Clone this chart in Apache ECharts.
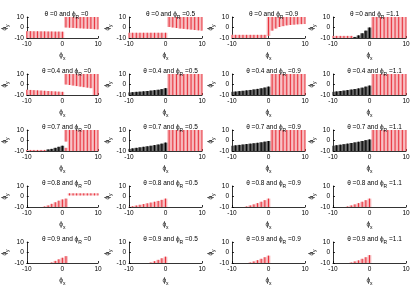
<!DOCTYPE html>
<html>
<head>
<meta charset="utf-8">
<script src="https://cdn.jsdelivr.net/npm/echarts@6/dist/echarts.min.js"></script>
<style>
  html, body { margin: 0; padding: 0; background: #fff; }
  #chart { width: 416px; height: 287px; }
</style>
</head>
<body>
<div id="chart"></div>
<script>
// rows: theta, columns: phi_R
var thetas = ['0', '0.4', '0.7', '0.8', '0.9'];
var phiRs = ['0', '0.5', '0.9', '1.1'];
var ticks = [-10, 0, 10];

// each entry: [phi_x, low phi_y, high phi_y]
// theta = 0
var red00 = [[-10,-10,-3.5],[-9,-10,-3.5],[-8,-10,-3.6],[-7,-10,-3.6],[-6,-10,-3.7],[-5,-10,-3.7],[-4,-10,-3.8],[-3,-10,-3.8],[-2,-10,-3.9],[-1,-10,-3.9],[0,-10,-4],
  [1,0,10],[2,-0.2,10],[3,-0.4,10],[4,-0.6,10],[5,-0.8,10],[6,-1,10],[7,-1.2,10],[8,-1.4,10],[9,-1.6,10],[10,-1.8,10]];
var blk00 = [];
var red01 = [[-10,-10,-5],[-9,-10,-5],[-8,-10,-5],[-7,-10,-5],[-6,-10,-5],[-5,-10,-5],[-4,-10,-5],[-3,-10,-5],[-2,-10,-5],[-1,-10,-5],[0,-10,-5],
  [1,0.5,10],[2,0,10],[3,-0.5,10],[4,-1,10],[5,-1.3,10],[6,-1.7,10],[7,-2,10],[8,-2.4,10],[9,-2.7,10],[10,-3,10]];
var blk01 = [];
var red02 = [[-10,-10,-7],[-9,-10,-7],[-8,-10,-7],[-7,-10,-7],[-6,-10,-7],[-5,-10,-7],[-4,-10,-7],[-3,-10,-7],[-2,-10,-7],[-1,-10,-7],
  [0,-8,10],[1,-3,10],[2,-1,10],[3,0.5,10],[4,1.3,10],[5,2,10],[6,2.4,10],[7,2.7,10],[8,3,10],[9,3.2,10],[10,3.3,10]];
var blk02 = [];
var red03 = [[-10,-10,-8],[-9,-10,-8],[-8,-10,-8],[-7,-10,-8],[-6,-10,-8],[-5,-10,-8],
  [1,-10,10],[2,-10,10],[3,-10,10],[4,-10,10],[5,-10,10],[6,-10,10],[7,-10,10],[8,-10,10],[9,-10,10],[10,-10,10]];
var blk03 = [[-4,-10,-9],[-3,-10,-7.5],[-2,-10,-5.5],[-1,-10,-3],[0,-10,0]];
// theta = 0.4
var red10 = [[-10,-10,-5],[-9,-10,-5.2],[-8,-10,-5.4],[-7,-10,-5.6],[-6,-10,-5.8],[-5,-10,-6],[-4,-10,-6.2],[-3,-10,-6.4],[-2,-10,-6.6],[-1,-10,-6.8],[0,-10,-7],
  [1,0,10],[2,-0.5,10],[3,-1,10],[4,-1.5,10],[5,-2,10],[6,-2.5,10],[7,-3,10],[8,-3.5,10],[9,-10,10],[10,-10,10]];
var blk10 = [];
var red11 = [[1,-10,10],[2,-10,10],[3,-10,10],[4,-10,10],[5,-10,10],[6,-10,10],[7,-10,10],[8,-10,10],[9,-10,10],[10,-10,10]];
var blk11 = [[-10,-10,-7.5],[-9,-10,-7.3],[-8,-10,-7],[-7,-10,-6.8],[-6,-10,-6.5],[-5,-10,-6.2],[-4,-10,-5.8],[-3,-10,-5.4],[-2,-10,-5],[-1,-10,-4.4],[0,-10,-3.5]];
var red12 = [[1,-10,10],[2,-10,10],[3,-10,10],[4,-10,10],[5,-10,10],[6,-10,10],[7,-10,10],[8,-10,10],[9,-10,10],[10,-10,10]];
var blk12 = [[-10,-10,-7],[-9,-10,-6.7],[-8,-10,-6.3],[-7,-10,-6],[-6,-10,-5.6],[-5,-10,-5.2],[-4,-10,-4.7],[-3,-10,-4.2],[-2,-10,-3.6],[-1,-10,-2.9],[0,-10,-2]];
var red13 = [[1,-10,10],[2,-10,10],[3,-10,10],[4,-10,10],[5,-10,10],[6,-10,10],[7,-10,10],[8,-10,10],[9,-10,10],[10,-10,10]];
var blk13 = [[-10,-10,-7],[-9,-10,-6.6],[-8,-10,-6.2],[-7,-10,-5.8],[-6,-10,-5.3],[-5,-10,-4.8],[-4,-10,-4.3],[-3,-10,-3.7],[-2,-10,-3],[-1,-10,-2],[0,-10,-1]];
// theta = 0.7
var red20 = [[-10,-10,-9],[-9,-10,-9],[-8,-10,-9],[-7,-10,-9],[-6,-10,-9],[-5,-10,-9],
  [1,-10,-7],[1,-1,10],[2,-10,10],[3,-10,10],[4,-10,10],[5,-10,10],[6,-10,10],[7,-10,10],[8,-10,10],[9,-10,10],[10,-10,10]];
var blk20 = [[-4,-10,-8.5],[-3,-10,-8],[-2,-10,-7],[-1,-10,-6],[0,-10,-5]];
var red21 = [[1,-10,10],[2,-10,10],[3,-10,10],[4,-10,10],[5,-10,10],[6,-10,10],[7,-10,10],[8,-10,10],[9,-10,10],[10,-10,10]];
var blk21 = [[-10,-10,-8],[-9,-10,-7.5],[-8,-10,-7],[-7,-10,-6.5],[-6,-10,-6],[-5,-10,-5.5],[-4,-10,-5],[-3,-10,-4.4],[-2,-10,-3.8],[-1,-10,-3],[0,-10,-2]];
var red22 = [[1,-10,10],[2,-10,10],[3,-10,10],[4,-10,10],[5,-10,10],[6,-10,10],[7,-10,10],[8,-10,10],[9,-10,10],[10,-10,10]];
var blk22 = [[-10,-10,-5],[-9,-10,-4.6],[-8,-10,-4.2],[-7,-10,-3.8],[-6,-10,-3.4],[-5,-10,-3],[-4,-10,-2.6],[-3,-10,-2.2],[-2,-10,-1.7],[-1,-10,-1.1],[0,-10,-0.5]];
var red23 = [[1,-10,10],[2,-10,10],[3,-10,10],[4,-10,10],[5,-10,10],[6,-10,10],[7,-10,10],[8,-10,10],[9,-10,10],[10,-10,10]];
var blk23 = [[-10,-10,-5],[-9,-10,-4.5],[-8,-10,-4],[-7,-10,-3.5],[-6,-10,-3],[-5,-10,-2.4],[-4,-10,-1.8],[-3,-10,-1.2],[-2,-10,-0.5],[-1,-10,0.3],[0,-10,1]];
// theta = 0.8
var red30 = [[-5,-10,-9.5],[-4,-10,-8.5],[-3,-10,-7],[-2,-10,-5.5],[-1,-10,-4],[0,-10,-2.8],[1,-10,-2],
  [2,1,3],[3,1,3],[4,1,3],[5,1,3],[6,1,3],[7,1,3],[8,1,3],[9,1,3],[10,1,3]];
var blk30 = [];
var red31 = [[-10,-10,-9.8],[-9,-10,-9.3],[-8,-10,-8.6],[-7,-10,-7.9],[-6,-10,-7.2],[-5,-10,-6.5],[-4,-10,-5.8],[-3,-10,-5],[-2,-10,-4.2],[-1,-10,-3.2],[0,-10,-2]];
var blk31 = [];
var red32 = [[-6,-10,-9.5],[-5,-10,-8.5],[-4,-10,-7.5],[-3,-10,-6.3],[-2,-10,-5],[-1,-10,-3.5],[0,-10,-2]];
var blk32 = [];
var red33 = [[-6,-10,-9.5],[-5,-10,-8.5],[-4,-10,-7.5],[-3,-10,-6.3],[-2,-10,-5],[-1,-10,-3.5],[0,-10,-2]];
var blk33 = [];
// theta = 0.9
var red40 = [[-3,-10,-9.5],[-2,-10,-8],[-1,-10,-6.5],[0,-10,-5],[1,-10,-3.5]];
var blk40 = [];
var red41 = [[-4,-10,-9.5],[-3,-10,-8.3],[-2,-10,-7],[-1,-10,-5.5],[0,-10,-4]];
var blk41 = [];
var red42 = [[-5,-10,-9.5],[-4,-10,-8.5],[-3,-10,-7.3],[-2,-10,-6],[-1,-10,-4.5],[0,-10,-3]];
var blk42 = [];
var red43 = [[-5,-10,-9.5],[-4,-10,-8.5],[-3,-10,-7.5],[-2,-10,-6],[-1,-10,-4.5],[0,-10,-2.5]];
var blk43 = [];

var reds = [[red00, red01, red02, red03], [red10, red11, red12, red13], [red20, red21, red22, red23], [red30, red31, red32, red33], [red40, red41, red42, red43]];
var blacks = [[blk00, blk01, blk02, blk03], [blk10, blk11, blk12, blk13], [blk20, blk21, blk22, blk23], [blk30, blk31, blk32, blk33], [blk40, blk41, blk42, blk43]];

var colLeft = [25, 129, 232, 333];
var rowTop = [17, 74, 130, 186, 242];
var plotW = 73, plotH = 21;
var font = 'Liberation Sans, Arial, sans-serif';

// one striped vertical band per data item
function stripes(lineColor, fillColor) {
    return function (params, api) {
        var x = api.value(0), lo = api.value(1), hi = api.value(2);
        var a = api.coord([Math.max(x - 0.5, -10), hi]);
        var b = api.coord([Math.min(x + 0.5, 10), lo]);
        var c1 = api.coord([x, hi]);
        var c2 = api.coord([x, lo]);
        return {
            type: 'group',
            children: [
                { type: 'rect', shape: { x: a[0], y: a[1], width: b[0] - a[0], height: b[1] - a[1] }, style: { fill: fillColor } },
                { type: 'line', shape: { x1: c1[0], y1: c1[1], x2: c2[0], y2: c2[1] }, style: { stroke: lineColor, lineWidth: 1 } }
            ]
        };
    };
}

var grids = [], xAxes = [], yAxes = [], series = [], titles = [];
var sub = { fontSize: 5, lineHeight: 12, verticalAlign: 'bottom', fontFamily: font, color: '#000' };

for (var r = 0; r < thetas.length; r++) {
    for (var c = 0; c < phiRs.length; c++) {
        var k = grids.length;
        grids.push({ left: colLeft[c], top: rowTop[r], width: plotW, height: plotH });
        titles.push({
            text: 'θ =' + thetas[r] + ' and ϕ{s|R} =' + phiRs[c],
            left: colLeft[c] + plotW / 2, top: rowTop[r] - 14, textAlign: 'center',
            textStyle: { fontSize: 6.5, fontWeight: 'normal', fontFamily: font, color: '#000', rich: { s: sub } }
        });
        var axisCommon = {
            type: 'value', min: -10, max: 10, interval: 10,
            axisLine: { show: true, onZero: false, lineStyle: { color: '#000', width: 0.8 } },
            axisTick: { show: true, length: 2, inside: true, lineStyle: { color: '#000', width: 0.8 } },
            axisLabel: { fontSize: 6.5, color: '#000', fontFamily: font, margin: 3 },
            splitLine: { show: false },
            nameLocation: 'middle',
            nameTextStyle: { fontSize: 6.5, color: '#000', fontFamily: font, rich: { s: sub } },
            gridIndex: k
        };
        xAxes.push(Object.assign({}, axisCommon, { name: 'ϕ{s|x}', nameGap: 11 }));
        yAxes.push(Object.assign({}, axisCommon, { name: 'ϕ{s|y}', nameGap: 12, nameRotate: 90 }));
        series.push({
            type: 'custom', xAxisIndex: k, yAxisIndex: k,
            renderItem: stripes('#e8323c', '#f6b3b7'),
            encode: { x: 0, y: [1, 2] },
            data: reds[r][c], silent: true
        });
        series.push({
            type: 'custom', xAxisIndex: k, yAxisIndex: k,
            renderItem: stripes('#000000', '#555555'),
            encode: { x: 0, y: [1, 2] },
            data: blacks[r][c], silent: true
        });
    }
}

var chart = echarts.init(document.getElementById('chart'), null, { renderer: 'canvas' });
chart.setOption({
    animation: false,
    backgroundColor: '#fff',
    title: titles,
    grid: grids,
    xAxis: xAxes,
    yAxis: yAxes,
    series: series
});
</script>
</body>
</html>
